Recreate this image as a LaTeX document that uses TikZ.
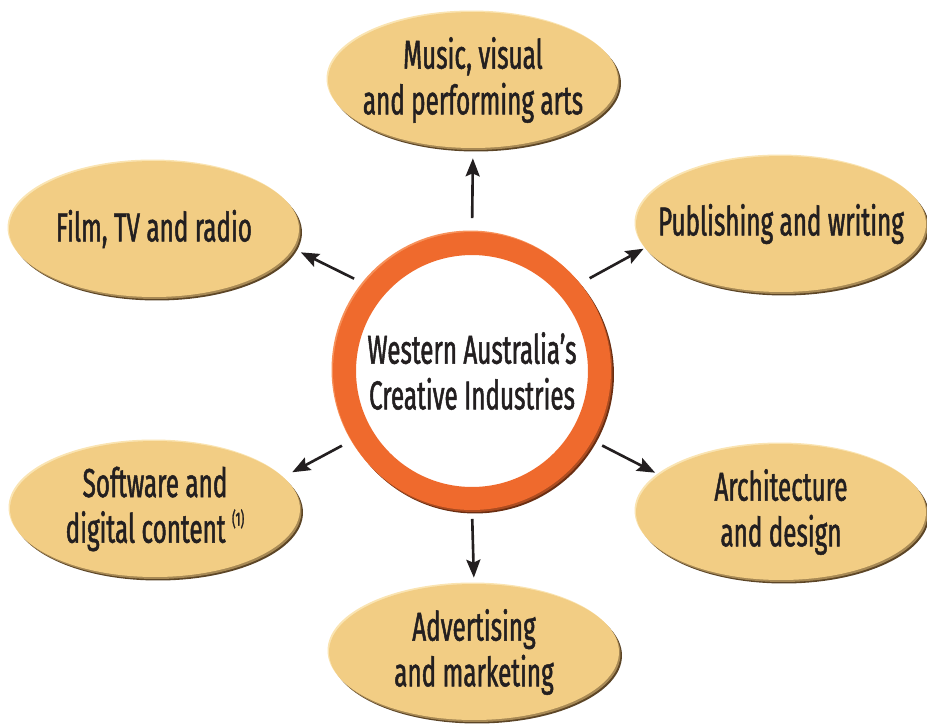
\documentclass[tikz,border=0pt]{standalone}
\usepackage{fontspec}
\setmainfont{Fira Sans}[FakeStretch=0.6, FakeBold=1.2]
\usetikzlibrary{shapes.geometric,arrows.meta,calc,backgrounds}
\definecolor{podtan}{HTML}{F2CD84}
\definecolor{podlight}{HTML}{FAE4B2}
\definecolor{podrim}{HTML}{5C4526}
\definecolor{ringorange}{HTML}{EF6A2D}
\definecolor{ringlight}{HTML}{F7915A}
\definecolor{ringrim}{HTML}{6A2E12}
\definecolor{inkdark}{HTML}{231F20}

\begin{document}
\begin{tikzpicture}[x=0.02cm,y=-0.02cm,
    pod/.style={ellipse, minimum width=5.8cm, minimum height=2.72cm,
      inner xsep=-1.5cm, inner ysep=-0.3cm,
      fill=podtan, align=center, text=inkdark, font=\fontsize{23}{26}\selectfont},
    hub/.style={circle, minimum size=5.1cm, inner sep=0pt, fill=white,
      draw=ringorange, line width=0.46cm,
      align=center, text=inkdark, font=\fontsize{23}{26}\selectfont},
    arrow/.style={-{Stealth[length=0.36cm,width=0.28cm,inset=0.06cm]}, line width=1.5pt, draw=inkdark}]
    \node[hub] (hub) at (472,371) {Western Australia’s\\Creative Industries};
    \node[pod] (music) at (473,80) {Music, visual\\and performing arts};
    \node[pod] (film) at (154,229) {Film, TV and radio};
    \node[pod] (pub) at (781,224) {Publishing and writing};
    \node[pod] (soft) at (155,509) {Software and\\digital content \raisebox{0.34cm}{\fontsize{11}{11}\selectfont(1)}};
    \node[pod] (arch) at (781,512) {Architecture\\and design};
    \node[pod] (adv) at (474,652) {Advertising\\and marketing};
    \begin{scope}[on background layer]
        \fill[ringrim] ($(hub)+(0.06cm,-0.07cm)$) circle (2.78cm);
        \fill[ringrim!50!ringorange] ($(hub)+(0.03cm,-0.04cm)$) circle (2.78cm);
        \fill[ringlight] ($(hub)+(-0.03cm,0.03cm)$) circle (2.78cm);
        \foreach \n in {music,film,pub,soft,arch,adv} {
            \fill[podrim] ($(\n)+(0.06cm,-0.07cm)$) ellipse (2.9cm and 1.36cm);
            \fill[podrim!50!podtan] ($(\n)+(0.03cm,-0.04cm)$) ellipse (2.9cm and 1.36cm);
            \fill[podlight] ($(\n)+(-0.03cm,0.03cm)$) ellipse (2.9cm and 1.36cm);
        }
    \end{scope}
    \draw[arrow, shorten <=0.28cm, shorten >=0.2cm] (hub.90) -- (music.270);
    \draw[arrow, shorten <=0.22cm, shorten >=0.17cm] (hub.141) -- (film.-8);
    \draw[arrow, shorten <=0.22cm, shorten >=0.03cm] (hub.39) -- (pub.190);
    \draw[arrow, shorten <=0.22cm, shorten >=0.2cm] (hub.210) -- (soft.14);
    \draw[arrow, shorten <=0.22cm, shorten >=0.09cm] (hub.-30) -- (arch.163);
    \draw[arrow, shorten <=0.18cm, shorten >=0.12cm] (hub.270) -- (adv.90);
    \pgfresetboundingbox
    \useasboundingbox (0,0) rectangle (927,724);
\end{tikzpicture}
\end{document}
